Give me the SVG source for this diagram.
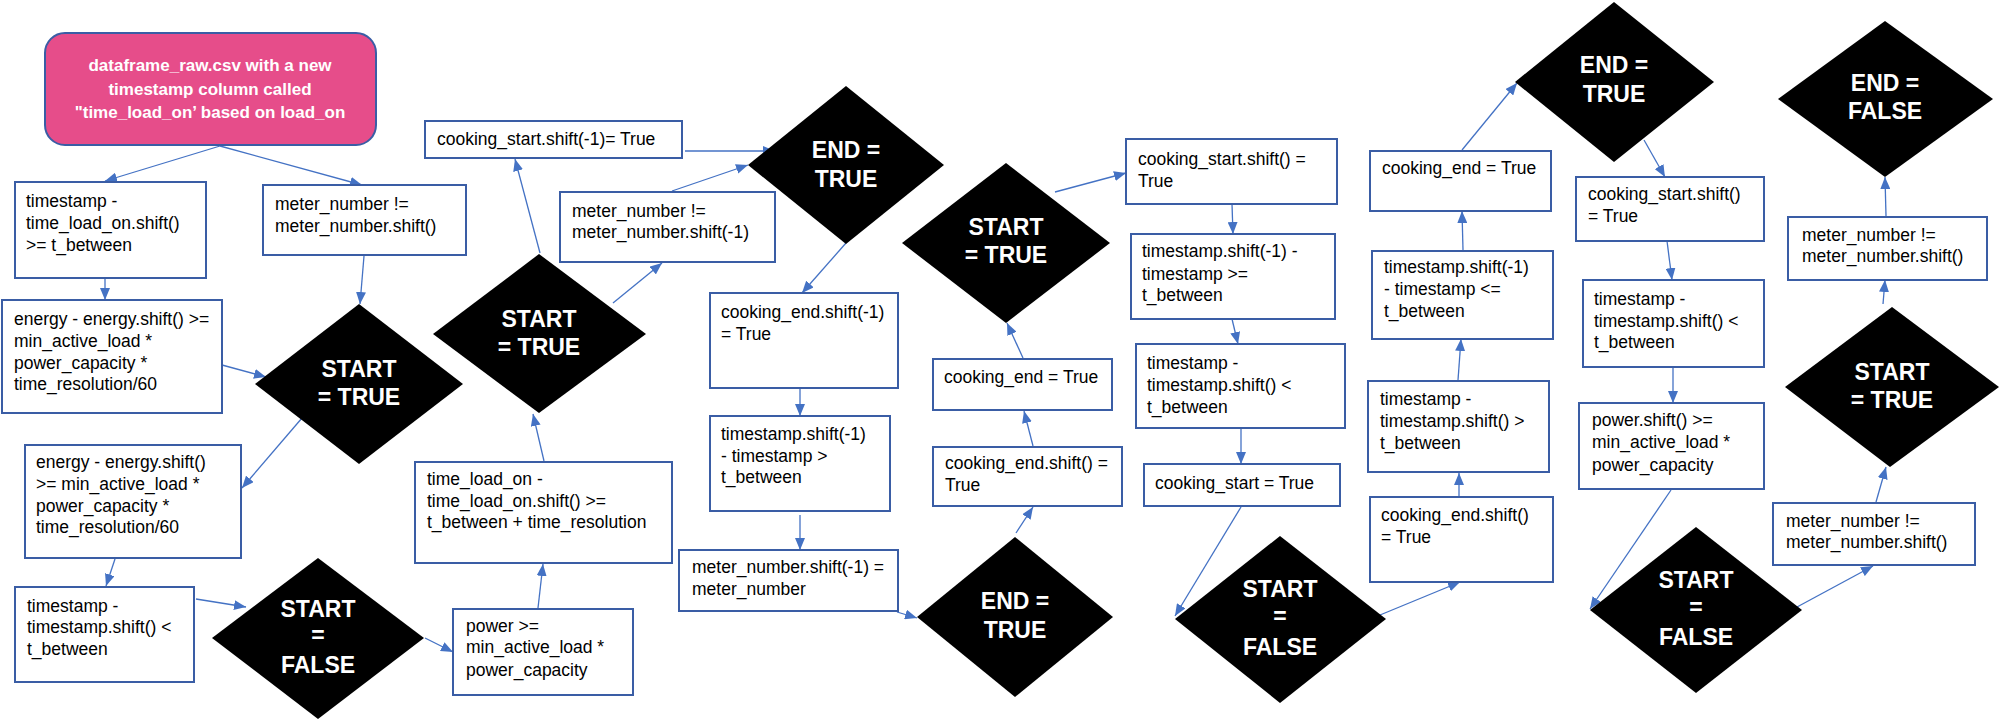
<svg xmlns="http://www.w3.org/2000/svg" width="2002" height="722" viewBox="0 0 2002 722">
<style>
.bg{fill:#fff}
.box{fill:#fff;stroke:#3A5DA5;stroke-width:2}
.dia{fill:#000}
.t{font-family:"Liberation Sans",Arial,sans-serif;font-size:17.5px;fill:#000}
.dt{font-family:"Liberation Sans",Arial,sans-serif;font-weight:bold;font-size:23px;fill:#fff;text-anchor:middle}
.pt{font-family:"Liberation Sans",Arial,sans-serif;font-weight:bold;font-size:17px;fill:#fff;text-anchor:middle}
.c{stroke:#4472C4;stroke-width:1.3;fill:none;marker-end:url(#ah)}
</style>
<defs>
<marker id="ah" viewBox="0 0 12 10" refX="12" refY="5" markerWidth="12" markerHeight="10" markerUnits="userSpaceOnUse" orient="auto"><path d="M0,0 L12,5 L0,10 z" fill="#4472C4"/></marker>
</defs>
<rect class="bg" x="0" y="0" width="2002" height="722"/>

<g id="connectors">
<line class="c" x1="220" y1="146" x2="105" y2="181"/>
<line class="c" x1="220" y1="146" x2="362" y2="185"/>
<line class="c" x1="105" y1="278" x2="105" y2="300"/>
<line class="c" x1="364" y1="256" x2="360" y2="304"/>
<line class="c" x1="222" y1="365" x2="266" y2="377"/>
<line class="c" x1="302" y1="418" x2="242" y2="488"/>
<line class="c" x1="115" y1="559" x2="106" y2="586"/>
<line class="c" x1="196" y1="599" x2="246" y2="607"/>
<line class="c" x1="425" y1="638" x2="453" y2="652"/>
<line class="c" x1="538" y1="608" x2="543" y2="564"/>
<line class="c" x1="544" y1="461" x2="533" y2="414"/>
<line class="c" x1="540" y1="253" x2="515" y2="159"/>
<line class="c" x1="685" y1="151" x2="775" y2="151"/>
<line class="c" x1="613" y1="303" x2="662" y2="263"/>
<line class="c" x1="672" y1="191" x2="748" y2="165"/>
<line class="c" x1="846" y1="243" x2="802" y2="293"/>
<line class="c" x1="800" y1="389" x2="800" y2="416"/>
<line class="c" x1="800" y1="515" x2="800" y2="550"/>
<line class="c" x1="897" y1="612" x2="917" y2="618"/>
<line class="c" x1="1016" y1="533" x2="1033" y2="507"/>
<line class="c" x1="1033" y1="446" x2="1024" y2="411"/>
<line class="c" x1="1023" y1="358" x2="1007" y2="323"/>
<line class="c" x1="1055" y1="192" x2="1126" y2="173"/>
<line class="c" x1="1232" y1="204" x2="1233" y2="234"/>
<line class="c" x1="1232" y1="319" x2="1238" y2="344"/>
<line class="c" x1="1241" y1="429" x2="1241" y2="464"/>
<line class="c" x1="1241" y1="507" x2="1175" y2="616"/>
<line class="c" x1="1380" y1="615" x2="1460" y2="582"/>
<line class="c" x1="1459" y1="496" x2="1459" y2="473"/>
<line class="c" x1="1458" y1="380" x2="1461" y2="339"/>
<line class="c" x1="1463" y1="250" x2="1462" y2="211"/>
<line class="c" x1="1462" y1="150" x2="1517" y2="83"/>
<line class="c" x1="1644" y1="140" x2="1665" y2="177"/>
<line class="c" x1="1667" y1="241" x2="1672" y2="280"/>
<line class="c" x1="1673" y1="367" x2="1673" y2="403"/>
<line class="c" x1="1671" y1="490" x2="1590" y2="609"/>
<line class="c" x1="1797" y1="607" x2="1873" y2="566"/>
<line class="c" x1="1876" y1="502" x2="1886" y2="467"/>
<line class="c" x1="1883" y1="304" x2="1885" y2="280"/>
<line class="c" x1="1886" y1="216" x2="1885" y2="177"/>
</g>

<g id="source">
<rect x="45" y="33" width="331" height="112" rx="20" fill="#E64D8A" stroke="#3A5DA5" stroke-width="2"/>
<text class="pt" x="210" y="71">dataframe_raw.csv with a new</text>
<text class="pt" x="210" y="95">timestamp column called</text>
<text class="pt" x="210" y="118">"time_load_on’ based on load_on</text>
</g>

<g id="n_a">
<rect class="box" x="15" y="182" width="191" height="96"/>
<text class="t" x="26" y="207">timestamp -</text>
<text class="t" x="26" y="229">time_load_on.shift()</text>
<text class="t" x="26" y="251">&gt;= t_between</text>
</g>

<g id="n_b">
<rect class="box" x="263" y="185" width="203" height="70"/>
<text class="t" x="275" y="210">meter_number !=</text>
<text class="t" x="275" y="232">meter_number.shift()</text>
</g>

<g id="n_c">
<rect class="box" x="2" y="300" width="220" height="113"/>
<text class="t" x="14" y="325">energy - energy.shift() &gt;=</text>
<text class="t" x="14" y="347">min_active_load *</text>
<text class="t" x="14" y="369">power_capacity *</text>
<text class="t" x="14" y="390">time_resolution/60</text>
</g>

<g id="d_start1">
<polygon class="dia" points="359,304 463,384 359,464 255,384"/>
<text class="dt" x="359" y="377">START</text>
<text class="dt" x="359" y="405">= TRUE</text>
</g>

<g id="n_d">
<rect class="box" x="25" y="445" width="216" height="113"/>
<text class="t" x="36" y="468">energy - energy.shift()</text>
<text class="t" x="36" y="490">&gt;= min_active_load *</text>
<text class="t" x="36" y="512">power_capacity *</text>
<text class="t" x="36" y="533">time_resolution/60</text>
</g>

<g id="n_e">
<rect class="box" x="15" y="587" width="179" height="95"/>
<text class="t" x="27" y="612">timestamp -</text>
<text class="t" x="27" y="633">timestamp.shift() &lt;</text>
<text class="t" x="27" y="655">t_between</text>
</g>

<g id="d_startfalse1">
<polygon class="dia" points="318,558 424,638 318,719 212,638"/>
<text class="dt" x="318" y="617">START</text>
<text class="dt" x="318" y="643">=</text>
<text class="dt" x="318" y="673">FALSE</text>
</g>

<g id="n_f">
<rect class="box" x="453" y="609" width="180" height="86"/>
<text class="t" x="466" y="632">power &gt;=</text>
<text class="t" x="466" y="653">min_active_load *</text>
<text class="t" x="466" y="676">power_capacity</text>
</g>

<g id="n_g">
<rect class="box" x="415" y="462" width="257" height="101"/>
<text class="t" x="427" y="485">time_load_on -</text>
<text class="t" x="427" y="507">time_load_on.shift() &gt;=</text>
<text class="t" x="427" y="528">t_between + time_resolution</text>
</g>

<g id="d_start2">
<polygon class="dia" points="539,254 646,334 539,413 433,334"/>
<text class="dt" x="539" y="327">START</text>
<text class="dt" x="539" y="355">= TRUE</text>
</g>

<g id="n_h">
<rect class="box" x="425" y="121" width="257" height="37"/>
<text class="t" x="437" y="145">cooking_start.shift(-1)= True</text>
</g>

<g id="n_i">
<rect class="box" x="560" y="192" width="215" height="70"/>
<text class="t" x="572" y="217">meter_number !=</text>
<text class="t" x="572" y="238">meter_number.shift(-1)</text>
</g>

<g id="d_end1">
<polygon class="dia" points="846,86 944,165 846,244 748,165"/>
<text class="dt" x="846" y="158">END =</text>
<text class="dt" x="846" y="187">TRUE</text>
</g>

<g id="n_j">
<rect class="box" x="710" y="293" width="188" height="95"/>
<text class="t" x="721" y="318">cooking_end.shift(-1)</text>
<text class="t" x="721" y="340">= True</text>
</g>

<g id="n_k">
<rect class="box" x="710" y="416" width="180" height="95"/>
<text class="t" x="721" y="440">timestamp.shift(-1)</text>
<text class="t" x="721" y="462">- timestamp &gt;</text>
<text class="t" x="721" y="483">t_between</text>
</g>

<g id="n_l">
<rect class="box" x="679" y="550" width="219" height="61"/>
<text class="t" x="692" y="573">meter_number.shift(-1) =</text>
<text class="t" x="692" y="595">meter_number</text>
</g>

<g id="d_end2">
<polygon class="dia" points="1015,537 1113,617 1015,697 917,617"/>
<text class="dt" x="1015" y="609">END =</text>
<text class="dt" x="1015" y="638">TRUE</text>
</g>

<g id="n_m">
<rect class="box" x="933" y="447" width="189" height="59"/>
<text class="t" x="945" y="469">cooking_end.shift() =</text>
<text class="t" x="945" y="491">True</text>
</g>

<g id="n_n">
<rect class="box" x="933" y="359" width="179" height="51"/>
<text class="t" x="944" y="383">cooking_end = True</text>
</g>

<g id="d_start3">
<polygon class="dia" points="1006,163 1110,243 1006,323 902,243"/>
<text class="dt" x="1006" y="235">START</text>
<text class="dt" x="1006" y="263">= TRUE</text>
</g>

<g id="n_o">
<rect class="box" x="1126" y="139" width="211" height="65"/>
<text class="t" x="1138" y="165">cooking_start.shift() =</text>
<text class="t" x="1138" y="187">True</text>
</g>

<g id="n_p">
<rect class="box" x="1131" y="234" width="204" height="85"/>
<text class="t" x="1142" y="257">timestamp.shift(-1) -</text>
<text class="t" x="1142" y="280">timestamp &gt;=</text>
<text class="t" x="1142" y="301">t_between</text>
</g>

<g id="n_q">
<rect class="box" x="1136" y="344" width="209" height="84"/>
<text class="t" x="1147" y="369">timestamp -</text>
<text class="t" x="1147" y="391">timestamp.shift() &lt;</text>
<text class="t" x="1147" y="413">t_between</text>
</g>

<g id="n_r">
<rect class="box" x="1144" y="464" width="196" height="42"/>
<text class="t" x="1155" y="489">cooking_start = True</text>
</g>

<g id="d_startfalse2">
<polygon class="dia" points="1280,536 1386,619 1280,703 1175,619"/>
<text class="dt" x="1280" y="597">START</text>
<text class="dt" x="1280" y="624">=</text>
<text class="dt" x="1280" y="655">FALSE</text>
</g>

<g id="n_s">
<rect class="box" x="1370" y="497" width="183" height="85"/>
<text class="t" x="1381" y="521">cooking_end.shift()</text>
<text class="t" x="1381" y="543">= True</text>
</g>

<g id="n_t">
<rect class="box" x="1368" y="381" width="181" height="91"/>
<text class="t" x="1380" y="405">timestamp -</text>
<text class="t" x="1380" y="427">timestamp.shift() &gt;</text>
<text class="t" x="1380" y="449">t_between</text>
</g>

<g id="n_u">
<rect class="box" x="1372" y="251" width="181" height="88"/>
<text class="t" x="1384" y="273">timestamp.shift(-1)</text>
<text class="t" x="1384" y="295">- timestamp &lt;=</text>
<text class="t" x="1384" y="317">t_between</text>
</g>

<g id="n_v">
<rect class="box" x="1370" y="151" width="181" height="60"/>
<text class="t" x="1382" y="174">cooking_end = True</text>
</g>

<g id="d_end3">
<polygon class="dia" points="1614,2 1714,82 1614,162 1515,82"/>
<text class="dt" x="1614" y="73">END =</text>
<text class="dt" x="1614" y="102">TRUE</text>
</g>

<g id="n_w">
<rect class="box" x="1576" y="177" width="188" height="64"/>
<text class="t" x="1588" y="200">cooking_start.shift()</text>
<text class="t" x="1588" y="222">= True</text>
</g>

<g id="n_x">
<rect class="box" x="1583" y="280" width="181" height="87"/>
<text class="t" x="1594" y="305">timestamp -</text>
<text class="t" x="1594" y="327">timestamp.shift() &lt;</text>
<text class="t" x="1594" y="348">t_between</text>
</g>

<g id="n_y">
<rect class="box" x="1579" y="403" width="185" height="86"/>
<text class="t" x="1592" y="426">power.shift() &gt;=</text>
<text class="t" x="1592" y="448">min_active_load *</text>
<text class="t" x="1592" y="471">power_capacity</text>
</g>

<g id="d_startfalse3">
<polygon class="dia" points="1696,527 1802,610 1696,693 1590,610"/>
<text class="dt" x="1696" y="588">START</text>
<text class="dt" x="1696" y="615">=</text>
<text class="dt" x="1696" y="645">FALSE</text>
</g>

<g id="n_z">
<rect class="box" x="1773" y="503" width="202" height="62"/>
<text class="t" x="1786" y="527">meter_number !=</text>
<text class="t" x="1786" y="548">meter_number.shift()</text>
</g>

<g id="d_start4">
<polygon class="dia" points="1892,307 1999,387 1890,467 1785,387"/>
<text class="dt" x="1892" y="380">START</text>
<text class="dt" x="1892" y="408">= TRUE</text>
</g>

<g id="n_aa">
<rect class="box" x="1788" y="217" width="199" height="63"/>
<text class="t" x="1802" y="241">meter_number !=</text>
<text class="t" x="1802" y="262">meter_number.shift()</text>
</g>

<g id="d_endfalse">
<polygon class="dia" points="1885,21 1993,99 1885,177 1778,99"/>
<text class="dt" x="1885" y="91">END =</text>
<text class="dt" x="1885" y="119">FALSE</text>
</g>
</svg>
